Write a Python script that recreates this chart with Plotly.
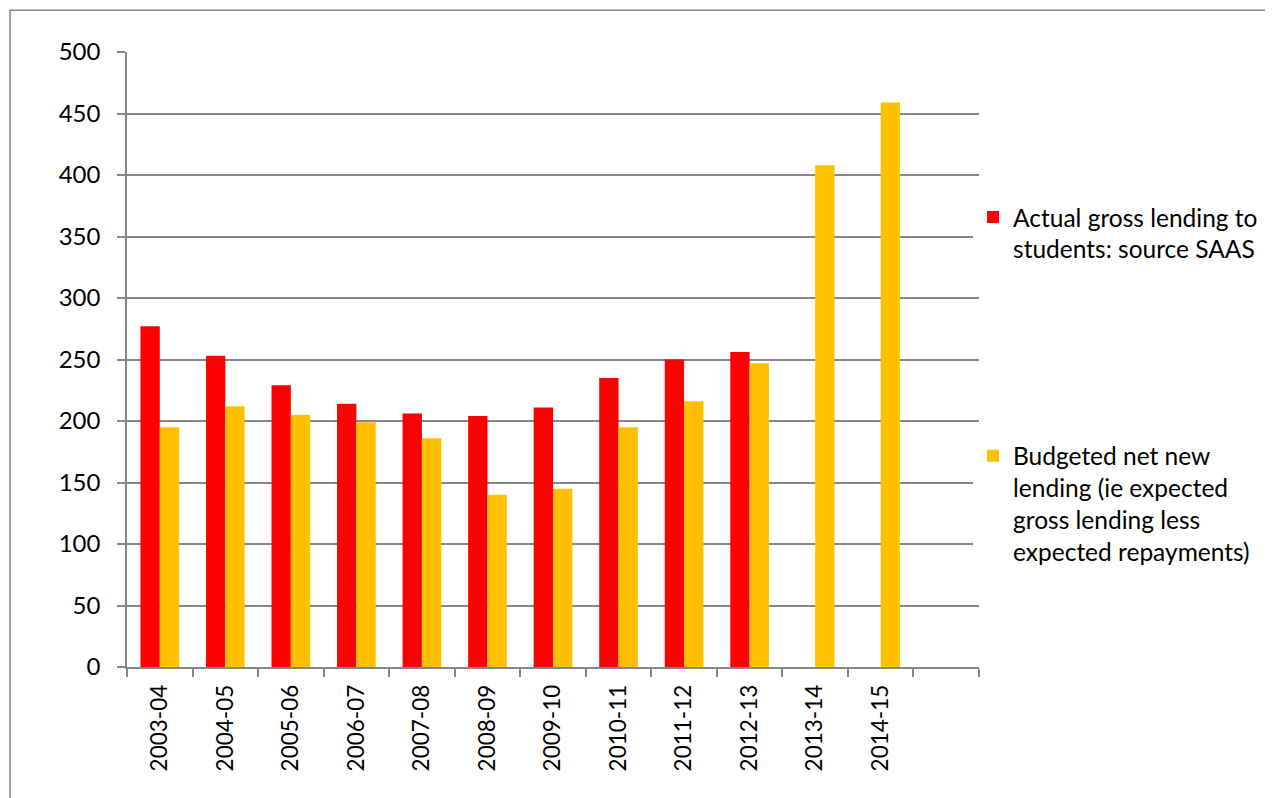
import plotly.graph_objects as go

# financial years, last slot on the axis is left empty in the original
years = ['2003-04', '2004-05', '2005-06', '2006-07', '2007-08', '2008-09',
         '2009-10', '2010-11', '2011-12', '2012-13', '2013-14', '2014-15']
actual_gross = [277, 253, 229, 214, 206, 204, 211, 235, 250, 256, None, None]
budgeted_net = [195, 212, 205, 199, 186, 140, 145, 195, 216, 247, 408, 459]

name_actual = 'Actual gross lending to<br>students: source SAAS'
name_budget = ('Budgeted net new<br>lending (ie expected<br>gross lending less<br>'
               'expected repayments)')

grey = '#868686'
font = dict(family='Lato, Open Sans, sans-serif', size=24, color='black')
xfont = dict(family='Lato, Open Sans, sans-serif', size=22.5, color='black')
legend_font = dict(family='Lato, Open Sans, sans-serif', size=24.5, color='black')

fig = go.Figure()
fig.add_trace(go.Bar(x=years, y=actual_gross, name=name_actual,
                     marker=dict(color='#FF0000', line=dict(width=0)),
                     legend='legend'))
fig.add_trace(go.Bar(x=years, y=budgeted_net, name=name_budget,
                     marker=dict(color='#FFC000', line=dict(width=0)),
                     legend='legend2'))

# page has an 8px body margin, so the margins are trimmed by that amount
fig.update_layout(
    width=1273, height=798,
    margin=dict(l=119, r=302, t=44, b=139),
    paper_bgcolor='white', plot_bgcolor='white',
    font=font,
    barmode='group', bargap=0.41, bargroupgap=0,
    showlegend=True,
    legend=dict(x=0.993, y=0.768, xanchor='left', yanchor='top',
                font=legend_font, valign='top', itemwidth=30),
    legend2=dict(x=0.993, y=0.38, xanchor='left', yanchor='top',
                 font=legend_font, valign='top', itemwidth=30),
)

fig.update_xaxes(
    type='category', categoryorder='array', categoryarray=years + [' '],
    range=[-0.5, 12.5], tickson='boundaries',
    ticks='outside', ticklen=8, tickcolor=grey, tickwidth=1.5,
    showline=True, linecolor=grey, linewidth=1.5,
    tickangle=-90, showgrid=False, tickfont=xfont, ticklabelstandoff=7,
)
fig.update_yaxes(
    range=[0, 500], dtick=50, tick0=0,
    ticks='outside', ticklen=8, tickcolor=grey, tickwidth=1.5,
    showline=True, linecolor=grey, linewidth=1.5,
    showgrid=True, gridcolor=grey, gridwidth=1.5,
    zeroline=False, tickfont=font, ticklabelstandoff=12,
)

# outer chart frame (right and bottom edges fall outside the picture)
fig.add_shape(type='rect', xref='paper', yref='paper',
              x0=-0.1373, x1=1.6, y0=-0.5, y1=1.068,
              line=dict(color=grey, width=1.5), layer='below')

fig.write_html('out.html')
